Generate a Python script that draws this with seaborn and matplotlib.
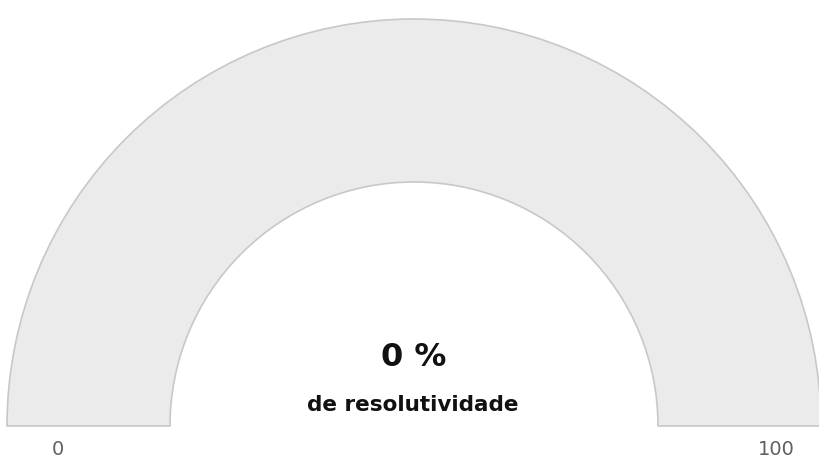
import matplotlib
matplotlib.use("Agg")
import matplotlib.pyplot as plt
from matplotlib.patches import Wedge
import seaborn as sns

# gauge data
value = 0
min_value = 0
max_value = 100
main_label = "0 %"
sub_label = "de resolutividade"

sns.set_style("white")
plt.rcParams['font.family'] = ['DejaVu Sans']

fig = plt.figure(figsize=(8.2, 4.6), dpi=100)
ax = fig.add_axes([0, 0, 1, 1])
ax.set_xlim(0, 820)
ax.set_ylim(0, 460)
ax.axis('off')

cx, cy = 414, 33
r_out, r_in = 407, 244

# background band
ax.add_patch(Wedge((cx, cy), r_out, 0, 180, width=r_out - r_in,
                   facecolor='#ebebeb', edgecolor='#c8c8c8', linewidth=1.2))

# value band (empty at 0)
frac = (value - min_value) / (max_value - min_value)
if frac > 0:
    ax.add_patch(Wedge((cx, cy), r_out, 180 - 180 * frac, 180, width=r_out - r_in,
                       facecolor='#4a90d9', edgecolor='none'))

ax.text(cx, 102, main_label, ha='center', va='center', fontsize=23,
        fontweight='bold', color='#111111')
ax.text(cx - 1, 55, sub_label, ha='center', va='center', fontsize=15.5,
        fontweight='bold', color='#111111')
ax.text(58, 10, str(min_value), ha='center', va='center', fontsize=14, color='#606060')
ax.text(776, 10, str(max_value), ha='center', va='center', fontsize=14, color='#606060')

plt.savefig('out.png', dpi=100)
